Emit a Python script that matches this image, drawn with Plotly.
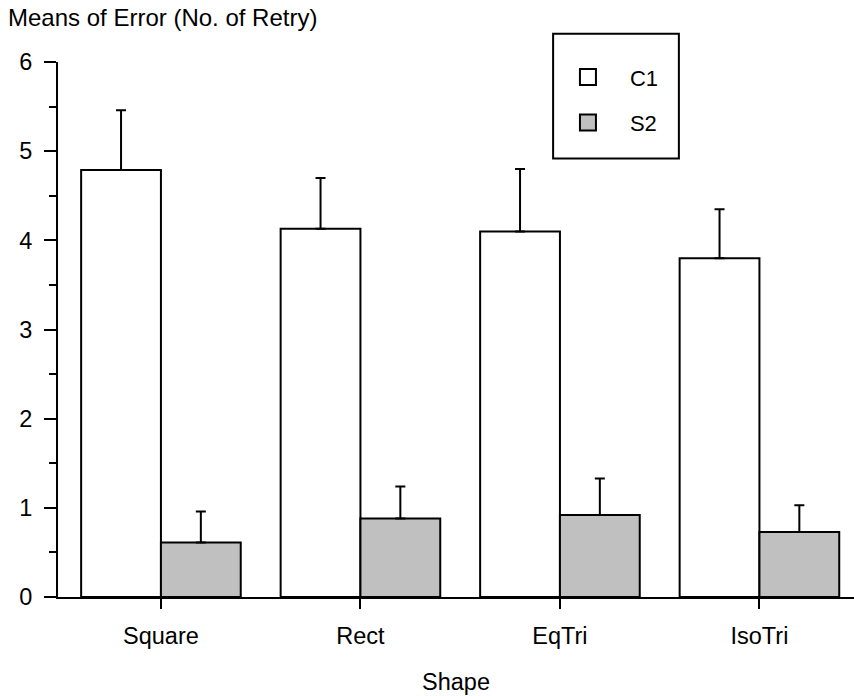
import plotly.graph_objects as go

categories = ["Square", "Rect", "EqTri", "IsoTri"]
c1_mean = [4.79, 4.13, 4.10, 3.80]
c1_err = [0.67, 0.57, 0.70, 0.55]
s2_mean = [0.61, 0.88, 0.92, 0.73]
s2_err = [0.35, 0.36, 0.41, 0.30]
series_names = ["C1", "S2"]
y_ticks = [0, 1, 2, 3, 4, 5, 6]

FONT = "Liberation Sans, Arial, sans-serif"
WHITE = "#ffffff"
GRAY = "#c0c0c0"
FS = 23.5

fig = go.Figure()
for name, mean, err, color in [(series_names[0], c1_mean, c1_err, WHITE),
                               (series_names[1], s2_mean, s2_err, GRAY)]:
    fig.add_trace(go.Bar(
        x=categories, y=mean, name=name, showlegend=False,
        marker=dict(color=color, line=dict(color="black", width=2)),
        error_y=dict(type="data", symmetric=False, array=err,
                     arrayminus=[0] * len(err), color="black",
                     thickness=2, width=5),
    ))
    # legend proxy
    fig.add_trace(go.Scatter(
        x=[None], y=[None], mode="markers", name=name, legendgroup=name,
        marker=dict(symbol="square", size=16, color=color,
                    line=dict(color="black", width=2)),
    ))

fig.update_layout(
    width=854, height=696,
    margin=dict(l=58, r=0, t=62, b=99),
    paper_bgcolor="white", plot_bgcolor="white",
    barmode="group", bargap=0.2, bargroupgap=0,
    font=dict(family=FONT, size=FS, color="black"),
    title=dict(text="Means of Error (No. of Retry)", xref="container",
               x=8 / 854, xanchor="left", yref="container",
               y=1 - 18 / 696, yanchor="middle",
               font=dict(size=24, color="black")),
    showlegend=True,
    legend=dict(x=0.613, y=1.011, xanchor="left", yanchor="top",
                bgcolor="rgba(0,0,0,0)", borderwidth=0, itemwidth=74,
                traceorder="grouped", tracegroupgap=14,
                font=dict(size=22, color="black")),
    xaxis=dict(range=[-0.516, 3.474], showline=True, linecolor="black",
               linewidth=2, ticks="outside", ticklen=10, tickwidth=2,
               tickcolor="black", showgrid=False, zeroline=False,
               ticklabelstandoff=7,
               title=dict(text="Shape", standoff=25,
                          font=dict(size=FS, color="black"))),
    yaxis=dict(range=[0, 6], tickvals=y_ticks, showline=True,
               linecolor="black", linewidth=2, ticks="outside",
               ticklen=12, tickwidth=2, tickcolor="black",
               showgrid=False, zeroline=False, ticklabelstandoff=7,
               minor=dict(dtick=0.5, ticks="outside", ticklen=7,
                          tickwidth=2, tickcolor="black", showgrid=False)),
)

fig.add_shape(type="rect", xref="paper", yref="paper",
              x0=0.622, x1=0.780, y0=0.8195, y1=1.053,
              line=dict(color="black", width=2), fillcolor="rgba(0,0,0,0)")

fig.write_html("out.html")
